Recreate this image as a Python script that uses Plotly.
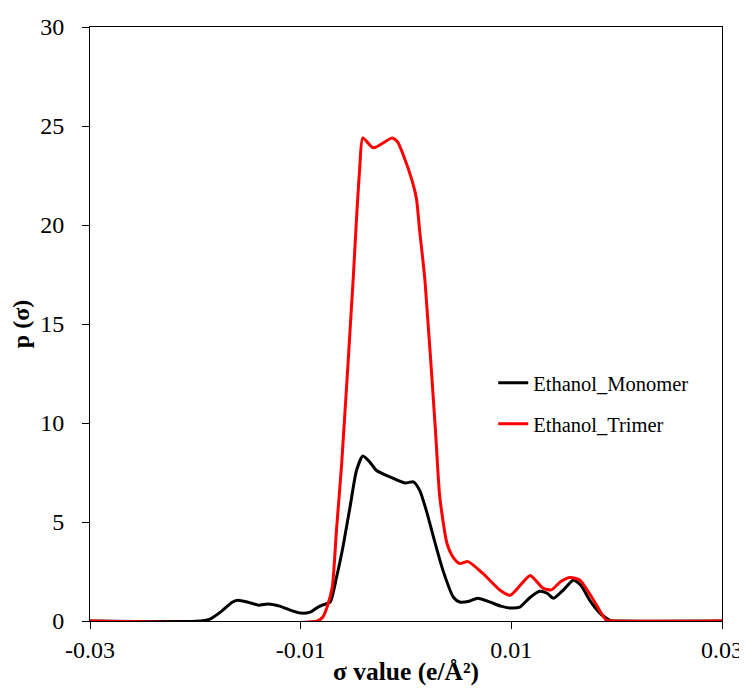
import plotly.graph_objects as go

mono_x = [-0.030, -0.0195, -0.0186, -0.0175, -0.0165, -0.0160, -0.0150, -0.0140, -0.0131, -0.0120,
          -0.0110, -0.0100, -0.0091, -0.0085, -0.0079, -0.0072, -0.0066, -0.0060, -0.0053, -0.0047,
          -0.0041, -0.0034, -0.0028, -0.0015, -0.0001, 0.0007, 0.0013, 0.0020, 0.0026, 0.0035,
          0.0045, 0.0051, 0.0060, 0.0068, 0.0080, 0.0090, 0.0099, 0.0108, 0.0118, 0.0127,
          0.0134, 0.0140, 0.0150, 0.0159, 0.0166, 0.0175, 0.0184, 0.0194, 0.0200, 0.030]
mono_y = [0, 0, 0.1, 0.5, 0.95, 1.05, 0.95, 0.8, 0.86, 0.75,
          0.55, 0.4, 0.45, 0.65, 0.81, 0.96, 2.2, 3.7, 5.8, 7.6,
          8.33, 8.0, 7.6, 7.27, 6.97, 7.03, 6.6, 5.45, 4.25, 2.57,
          1.2, 0.96, 1.0, 1.15, 0.95, 0.75, 0.66, 0.7, 1.2, 1.5,
          1.4, 1.15, 1.6, 2.07, 1.8, 1.0, 0.4, 0.02, 0, 0]

tri_x = [-0.030, -0.0084, -0.0079, -0.0075, -0.0070, -0.0066, -0.0061, -0.0050, -0.0047, -0.0044,
         -0.0041, -0.0031, -0.0013, -0.0008, -0.0003, 0.0006, 0.0010, 0.0013, 0.0018, 0.0028,
         0.0032, 0.0039, 0.0045, 0.0051, 0.0059, 0.0073, 0.0089, 0.0099, 0.0110, 0.0118,
         0.0130, 0.0138, 0.0147, 0.0156, 0.0165, 0.0178, 0.0190, 0.0196, 0.030]
tri_y = [0, 0, 0.2, 0.7, 1.7, 4.6, 8.0, 17.4, 20.3, 22.8,
         24.4, 23.9, 24.4, 24.2, 23.6, 22.2, 21.3, 19.7, 17.2, 9.6,
         6.3, 3.9, 3.2, 2.9, 3.0, 2.4, 1.57, 1.3, 1.9, 2.3,
         1.66, 1.57, 2.0, 2.2, 2.07, 1.06, 0.05, 0, 0]

x_ticks = [-0.03, -0.01, 0.01, 0.03]
x_tick_labels = ["-0.03", "-0.01", "0.01", "0.03"]
y_ticks = [0, 5, 10, 15, 20, 25, 30]

FONT = "Liberation Serif, Times New Roman, serif"
FS = 24

fig = go.Figure()
fig.add_trace(go.Scatter(x=mono_x, y=mono_y, mode="lines", name="Ethanol_Monomer",
                         line=dict(color="black", width=3, shape="spline", smoothing=0.6),
                         legend="legend", showlegend=True))
fig.add_trace(go.Scatter(x=tri_x, y=tri_y, mode="lines", name="Ethanol_Trimer",
                         line=dict(color="#ff0000", width=3, shape="spline", smoothing=0.6),
                         legend="legend2", showlegend=True))

leg_common = dict(font=dict(family=FONT, size=20.5, color="black"), bgcolor="rgba(0,0,0,0)",
                  xanchor="left", yanchor="middle", visible=True)
# page body adds an 8px offset, so the figure is 8px smaller than the window
fig.update_layout(
    width=739, height=692,
    margin=dict(l=82, r=25, t=19, b=79),
    paper_bgcolor="white", plot_bgcolor="white",
    showlegend=True,
    font=dict(family=FONT, size=FS, color="black"),
    legend=dict(x=0.638, y=(621 - 383) / 594, **leg_common),
    legend2=dict(x=0.638, y=(621 - 424) / 594, **leg_common),
    xaxis=dict(range=[-0.03, 0.03], tickvals=x_ticks, ticktext=x_tick_labels,
               ticks="outside", ticklen=7, tickwidth=1, tickcolor="black",
               showline=True, linecolor="black", linewidth=1, mirror=True,
               showgrid=False, zeroline=False, automargin=False,
               tickfont=dict(family=FONT, size=FS),
               title=dict(text="<b>σ value (e/Å²)</b>", font=dict(family=FONT, size=25.5), standoff=0)),
    yaxis=dict(range=[0, 30], tickvals=y_ticks,
               ticks="outside", ticklen=7, tickwidth=1, tickcolor="black",
               showline=True, linecolor="black", linewidth=1, mirror=True,
               showgrid=False, zeroline=False, automargin=False,
               ticklabelstandoff=13,
               tickfont=dict(family=FONT, size=FS),
               title=dict(text="<b>p (σ)</b>", font=dict(family=FONT, size=FS), standoff=3)),
)

fig.write_html("out.html")
